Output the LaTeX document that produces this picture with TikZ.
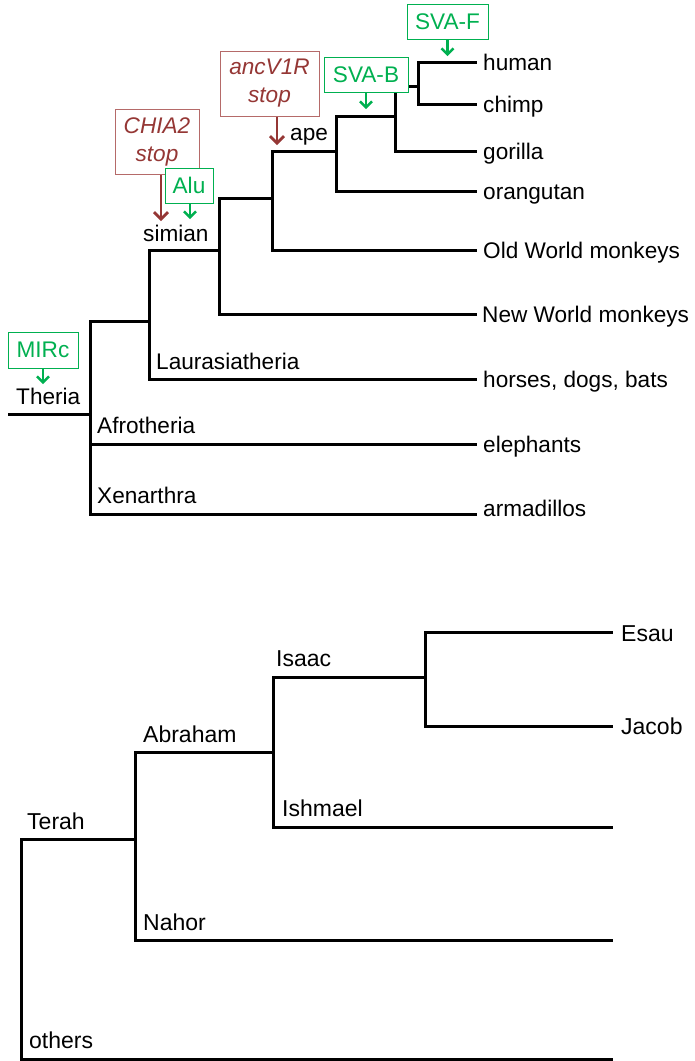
\documentclass[tikz,border=0pt]{standalone}
\usepackage{fontspec}
\setmainfont{Liberation Sans}
\usetikzlibrary{arrows.meta}
\definecolor{mgreen}{HTML}{00B050}
\definecolor{mred}{HTML}{953735}
\definecolor{mredbox}{HTML}{B56A69}
\tikzset{
  branch/.style={line width=3pt, line join=miter},
  lbl/.style={anchor=base west, inner sep=0pt, font=\fontsize{22.6}{26}\selectfont},
  lblb/.style={anchor=base west, inner sep=0pt, font=\fontsize{23}{27}\selectfont},
  gbox/.style={draw=mgreen, line width=1pt, fill=white, text=mgreen, inner sep=0pt,
    font=\fontsize{22.6}{26}\selectfont},
  rbox/.style={draw=mredbox, line width=1pt, fill=white, text=mred, inner sep=0pt,
    align=center, font=\fontsize{22.6}{28}\selectfont\itshape},
  garrow/.style={draw=mgreen, line width=2.4pt, -{Straight Barb[length=6pt,width=12pt,line width=2.4pt]}},
  rarrow/.style={draw=mred, line width=2.8pt, -{Straight Barb[length=7pt,width=14pt,line width=2.8pt]}},
}
\begin{document}
\begin{tikzpicture}[x=1pt,y=-1pt]
\useasboundingbox (0,0) rectangle (695,1061);
% ---------- top tree ----------
\coordinate (r0) at (8,414);
\coordinate (nT) at (90,414);
\coordinate (nL) at (149,321);
\coordinate (nS) at (219,250);
\coordinate (nC) at (272,198);
\coordinate (nA) at (336,151);
\coordinate (nG) at (395,116);
\coordinate (nH) at (418,86);
\coordinate (lHuman) at (477,62);
\coordinate (lChimp) at (477,104);
\coordinate (lGorilla) at (477,151);
\coordinate (lOrang) at (477,191);
\coordinate (lOWM) at (477,250);
\coordinate (lNWM) at (477,314);
\coordinate (lHorse) at (477,379);
\coordinate (lEleph) at (477,444);
\coordinate (lArma) at (477,514);

\draw[branch] (r0) -- (nT);
\draw[branch] (nT) |- (nL);
\draw[branch] (nT) |- (lEleph);
\draw[branch] (nT) |- (lArma);
\draw[branch] (nL) |- (nS);
\draw[branch] (nL) |- (lHorse);
\draw[branch] (nS) |- (nC);
\draw[branch] (nS) |- (lNWM);
\draw[branch] (nC) |- (nA);
\draw[branch] (nC) |- (lOWM);
\draw[branch] (nA) |- (nG);
\draw[branch] (nA) |- (lOrang);
\draw[branch] (nG) |- (nH);
\draw[branch] (nG) |- (lGorilla);
\draw[branch] (nH) |- (lHuman);
\draw[branch] (nH) |- (lChimp);

\node[lbl] (tHuman) at (483,70) {human};
\node[lbl] (tChimp) at (483,112) {chimp};
\node[lbl] (tGorilla) at (483,159) {gorilla};
\node[lbl] (tOrang) at (483,199) {orangutan};
\node[lbl] (tOWM) at (483,258) {Old World monkeys};
\node[lbl] (tNWM) at (482,322) {New World monkeys};
\node[lbl] (tHorse) at (483,387) {horses, dogs, bats};
\node[lbl] (tEleph) at (483,452) {elephants};
\node[lbl] (tArma) at (483,516) {armadillos};

\node[lbl] (tTheria) at (16,404) {Theria};
\node[lbl] (tAfro) at (97,433) {Afrotheria};
\node[lbl] (tXen) at (97,503) {Xenarthra};
\node[lbl] (tLaur) at (156,369) {Laurasiatheria};
\node[lbl] (tSimian) at (143,241) {simian};
\node[lbl] (tApe) at (290,140) {ape};

% ---------- markers ----------
\node[gbox, minimum width=70pt, minimum height=36pt] (mirc) at (43,350) {MIRc};
\coordinate (mircE) at (43,384);
\draw[garrow] (mirc.south) -- (mircE);

\node[rbox, minimum width=84pt, minimum height=65pt] (chia) at (157,141.5) {CHIA2\\stop};
\coordinate (chiaE) at (161,221);
\draw[rarrow] (chiaE |- chia.south) -- (chiaE);

\node[gbox, minimum width=48pt, minimum height=35pt] (alu) at (189,185.5) {Alu};
\coordinate (aluE) at (190,219);
\draw[garrow] (aluE |- alu.south) -- (aluE);

\node[rbox, minimum width=99pt, minimum height=65pt] (anc) at (269.5,83.5) {ancV1R\\stop};
\coordinate (ancE) at (277,145);
\draw[rarrow] (ancE |- anc.south) -- (ancE);

\node[gbox, minimum width=84pt, minimum height=35pt] (svab) at (366,74.5) {SVA-B};
\coordinate (svabE) at (366,109);
\draw[garrow] (svab.south) -- (svabE);

\node[gbox, minimum width=81pt, minimum height=35pt] (svaf) at (447.5,21.5) {SVA-F};
\coordinate (svafE) at (447.5,56);
\draw[garrow] (svaf.south) -- (svafE);

% ---------- bottom tree ----------
\coordinate (bT) at (21,839);
\coordinate (bAbr) at (135,839);
\coordinate (bIs) at (273,752);
\coordinate (bJ) at (425,677);
\coordinate (bEsau) at (613,632);
\coordinate (bJacob) at (613,726);
\coordinate (bIsh) at (613,827);
\coordinate (bNahor) at (613,940);
\coordinate (bOthers) at (613,1059);

\draw[branch] (bAbr) -- (bT) |- (bOthers);
\draw[branch] (bAbr) |- (bIs);
\draw[branch] (bAbr) |- (bNahor);
\draw[branch] (bIs) |- (bJ);
\draw[branch] (bIs) |- (bIsh);
\draw[branch] (bJ) |- (bEsau);
\draw[branch] (bJ) |- (bJacob);

\node[lblb] (tEsau) at (621,641) {Esau};
\node[lblb] (tJacob) at (621,734) {Jacob};
\node[lblb] (tTerah) at (27,829) {Terah};
\node[lblb] (tAbr) at (143,742) {Abraham};
\node[lblb] (tIsaac) at (276,666) {Isaac};
\node[lblb] (tIshm) at (282,816) {Ishmael};
\node[lblb] (tNahor) at (143,930) {Nahor};
\node[lblb] (tOthers) at (29,1048) {others};
\end{tikzpicture}
\end{document}
